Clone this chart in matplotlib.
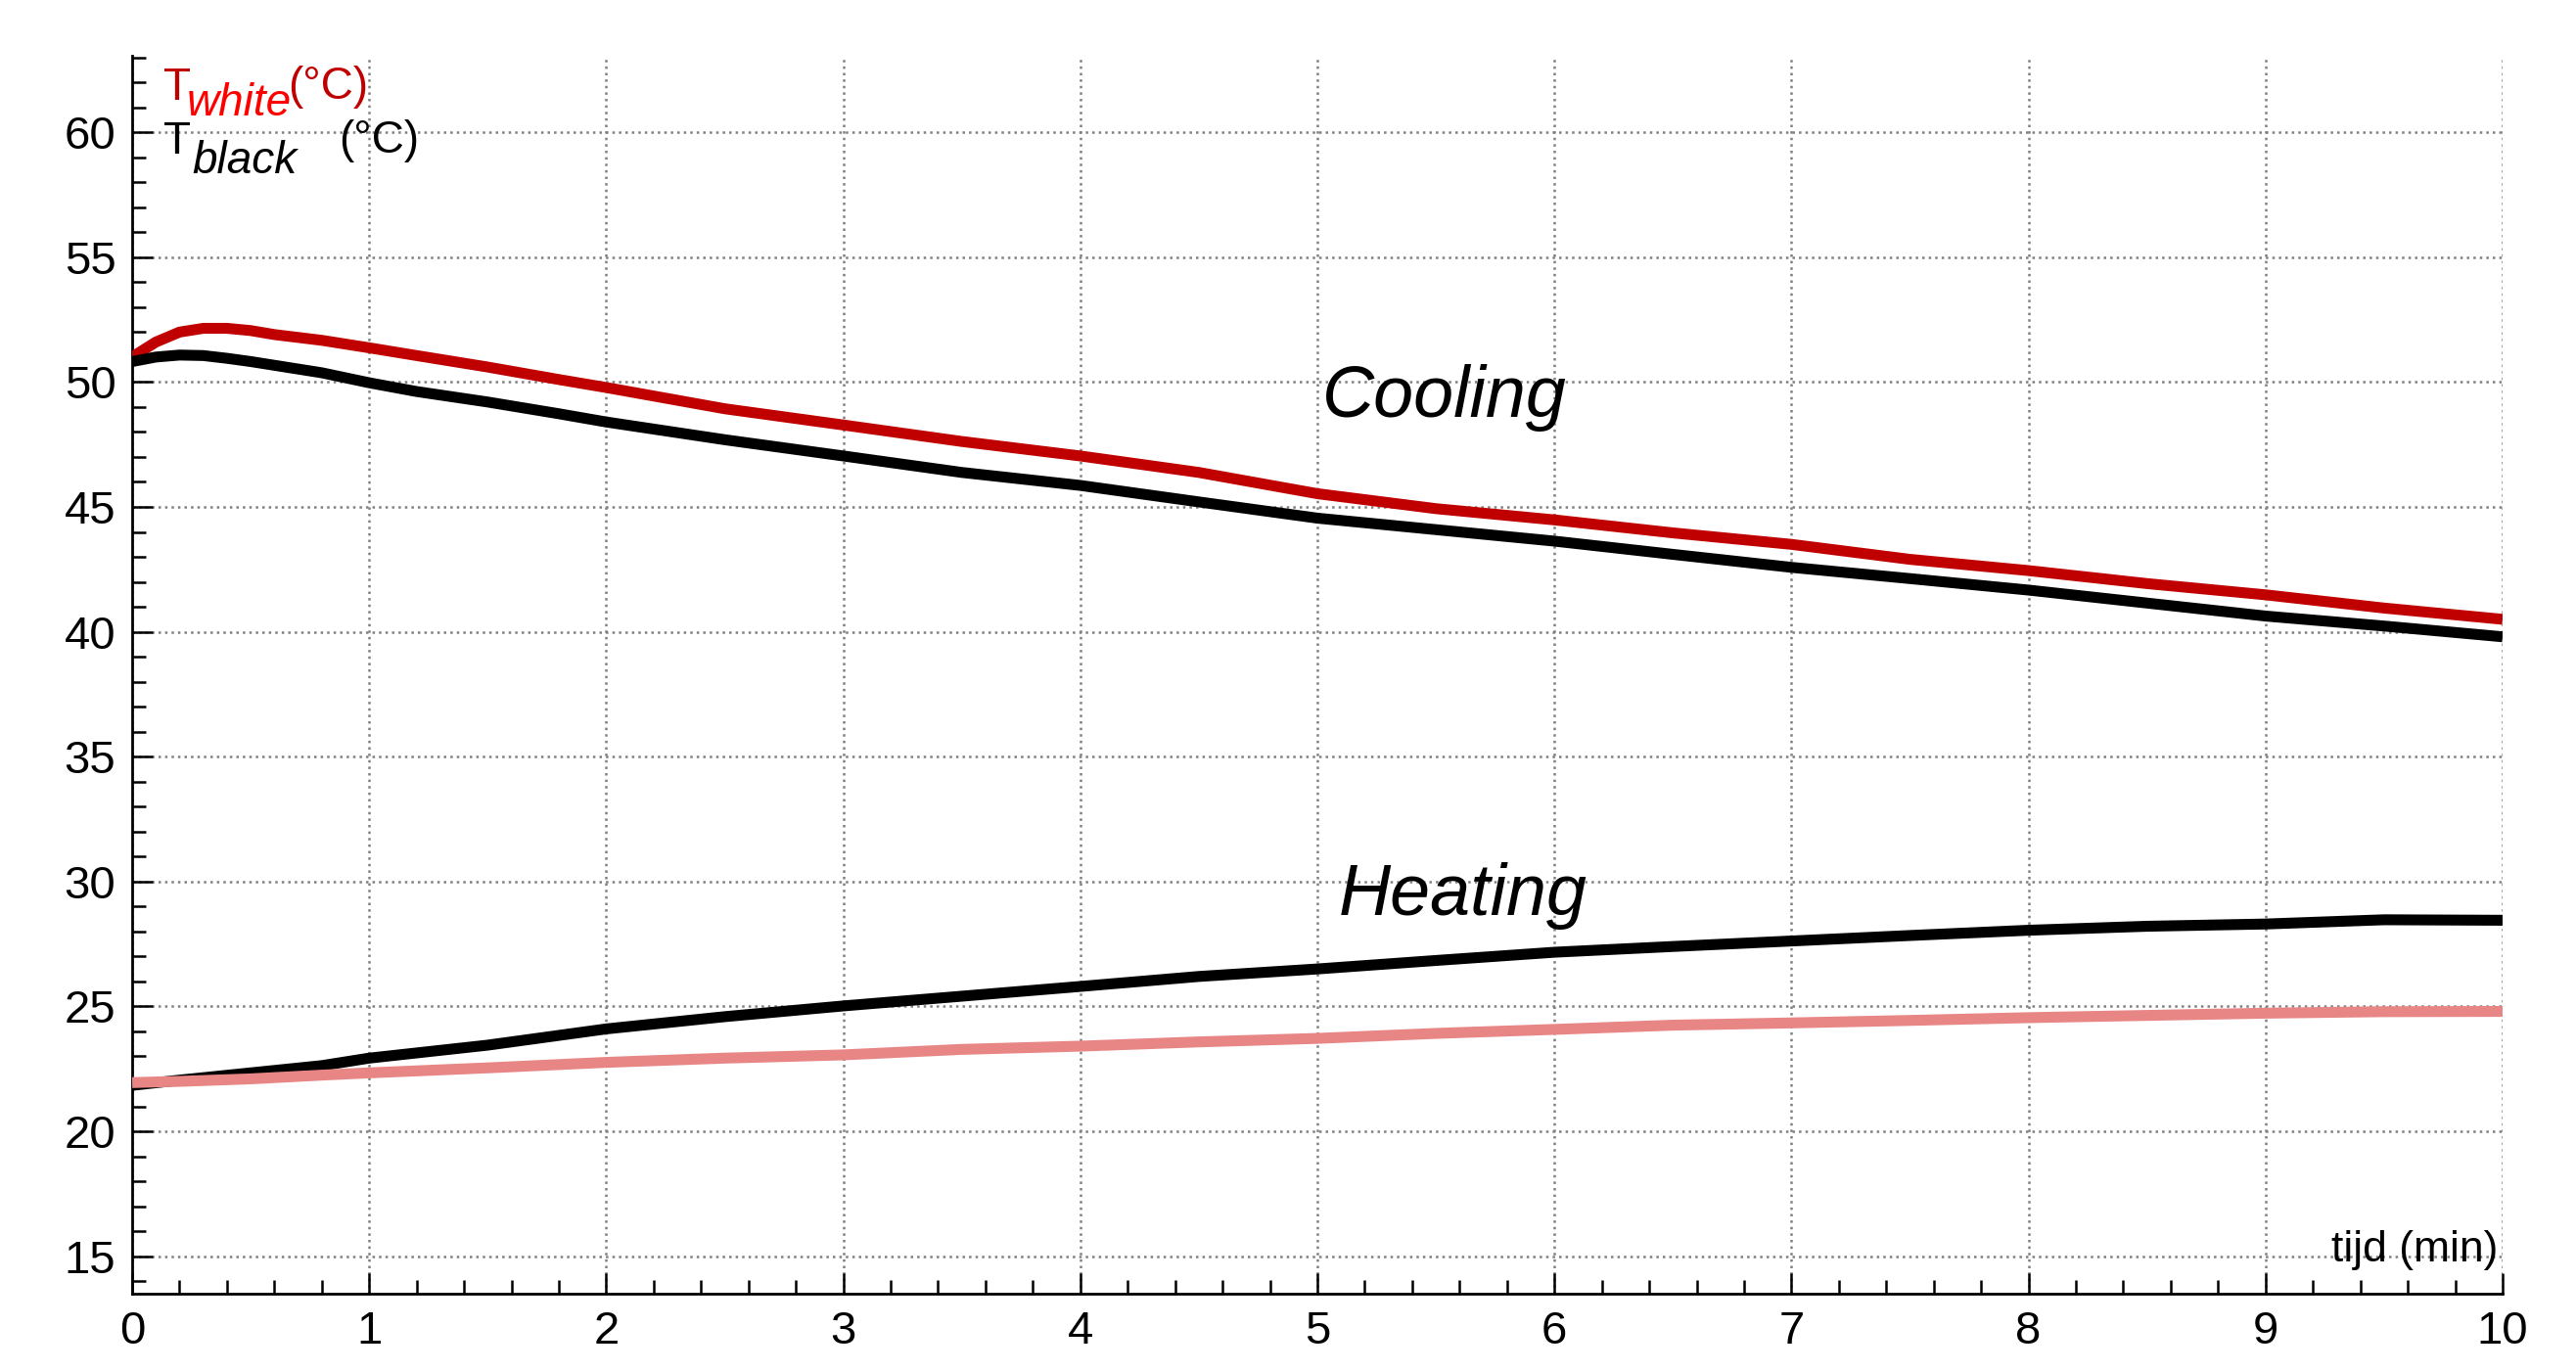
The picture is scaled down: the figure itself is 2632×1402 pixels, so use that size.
import matplotlib.pyplot as plt
from matplotlib.ticker import MultipleLocator

plt.rcParams['font.family'] = ['Liberation Sans', 'DejaVu Sans']

# cooling run (min, degC)
cool_t = [0, 0.1, 0.2, 0.3, 0.4, 0.5, 0.6, 0.8, 1.0, 1.2, 1.5, 1.8, 2.0,
          2.5, 3.0, 3.5, 4.0, 4.5, 5.0, 5.5, 6.0, 6.5, 7.0, 7.5, 8.0, 8.5,
          9.0, 9.5, 10.0]
white_cool = [51.0, 51.6, 52.0, 52.15, 52.15, 52.06, 51.9, 51.67, 51.37,
              51.06, 50.6, 50.1, 49.78, 48.93, 48.28, 47.62, 47.04, 46.38,
              45.53, 44.93, 44.48, 43.96, 43.5, 42.9, 42.45, 41.93, 41.48,
              40.95, 40.5]
black_cool = [50.82, 51.0, 51.08, 51.06, 50.95, 50.82, 50.67, 50.37, 49.97,
              49.62, 49.2, 48.73, 48.4, 47.69, 47.04, 46.38, 45.86, 45.2,
              44.55, 44.09, 43.63, 43.1, 42.58, 42.13, 41.67, 41.15, 40.63,
              40.23, 39.8]

# heating run
heat_t = [0, 0.2, 0.5, 0.8, 1.0, 1.5, 2.0, 2.5, 3.0, 3.5, 4.0, 4.5, 5.0,
          5.5, 6.0, 6.5, 7.0, 7.5, 8.0, 8.5, 9.0, 9.5, 10.0]
black_heat = [21.84, 22.05, 22.34, 22.63, 22.93, 23.45, 24.1, 24.59, 25.02,
              25.41, 25.8, 26.2, 26.5, 26.84, 27.17, 27.4, 27.62, 27.84,
              28.05, 28.21, 28.3, 28.47, 28.45]
white_heat = [21.95, 22.0, 22.1, 22.25, 22.34, 22.54, 22.76, 22.93, 23.06,
              23.28, 23.41, 23.58, 23.72, 23.92, 24.08, 24.25, 24.34, 24.44,
              24.55, 24.64, 24.73, 24.79, 24.8]

darkred = '#c00000'
pink = '#e88585'

fig = plt.figure(figsize=(26.32, 14.02), dpi=100)
ax = fig.add_axes([0.0513, 0.0571, 0.9202, 0.9022])

ax.plot(cool_t, white_cool, color=darkred, lw=8, solid_capstyle='butt', zorder=3)
ax.plot(cool_t, black_cool, color='black', lw=8, solid_capstyle='butt', zorder=3)
ax.plot(heat_t, black_heat, color='black', lw=8, solid_capstyle='butt', zorder=3)
ax.plot(heat_t, white_heat, color=pink, lw=8, solid_capstyle='butt', zorder=4)

ax.set_xlim(0, 10)
ax.set_ylim(13.5, 63.06)
ax.xaxis.set_major_locator(MultipleLocator(1))
ax.xaxis.set_minor_locator(MultipleLocator(0.2))
ax.yaxis.set_minor_locator(MultipleLocator(1))
ax.set_yticks(range(15, 61, 5))

for s in ['top', 'right']:
    ax.spines[s].set_visible(False)
for s in ['left', 'bottom']:
    ax.spines[s].set_linewidth(2)

ax.tick_params(which='major', direction='in', length=15, width=1.8,
               labelsize=34, pad=12)
ax.tick_params(which='minor', direction='in', length=10, width=1.8)

ax.grid(which='major', color='#808080', linestyle=':', linewidth=1.8, zorder=0)
ax.set_axisbelow(True)

# labels inside the plot
ax.text(0.132, 61.29, 'T', color=darkred, fontsize=33, va='baseline')
ax.text(0.228, 60.67, 'white', color='#ff0000', fontsize=33, style='italic',
        va='baseline')
ax.text(0.655, 61.33, '(°C)', color=darkred, fontsize=33, va='baseline')

ax.text(0.132, 59.14, 'T', color='black', fontsize=33, va='baseline')
ax.text(0.255, 58.35, 'black', color='black', fontsize=33, style='italic',
        va='baseline',
        bbox=dict(facecolor='white', edgecolor='none', pad=4))
ax.text(0.871, 59.18, '(°C)', color='black', fontsize=33, va='baseline')

ax.text(5.02, 48.6, 'Cooling', fontsize=53, style='italic', va='baseline')
ax.text(5.09, 28.67, 'Heating', fontsize=53, style='italic', va='baseline')

ax.text(9.98, 14.78, 'tijd (min)', fontsize=32, ha='right', va='baseline')

fig.savefig('out.png', dpi=100)
